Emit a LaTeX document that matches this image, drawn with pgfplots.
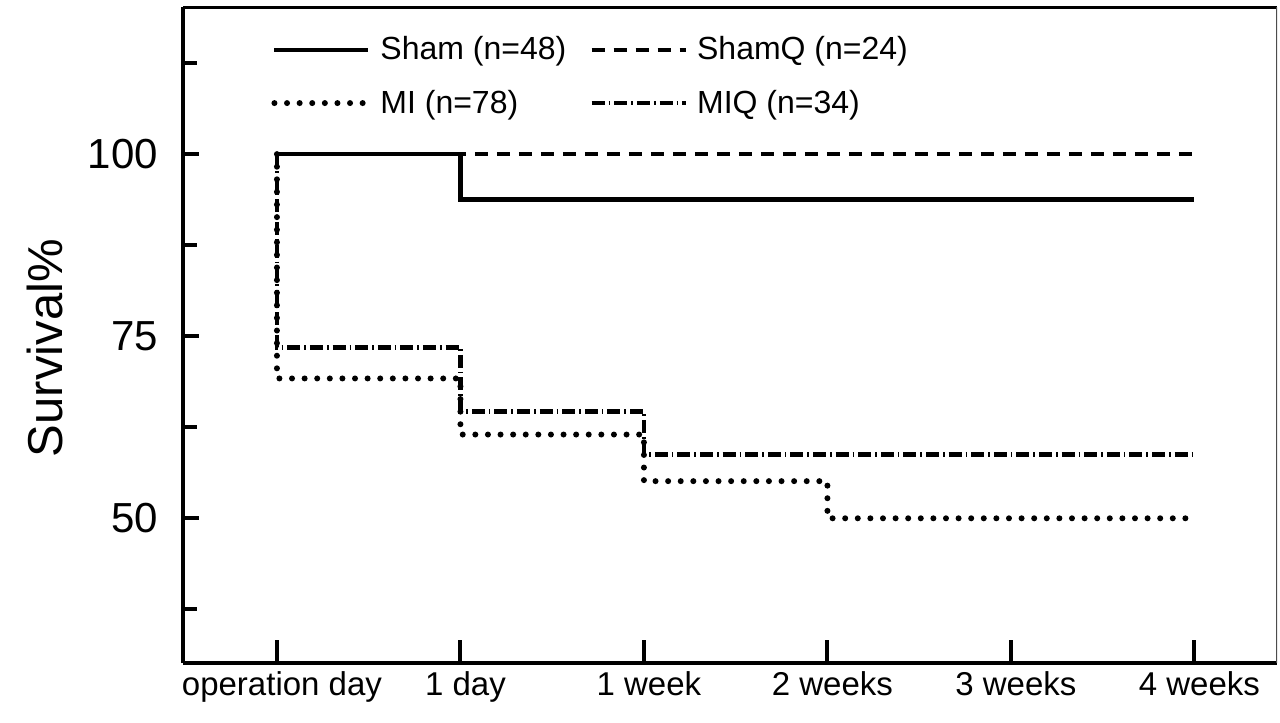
\documentclass[border=0pt]{standalone}
\usepackage{pgfplots}
\pgfplotsset{compat=1.18}
\usepackage{fontspec}
\setmainfont{Liberation Sans}

% Kaplan-Meier style survival steps (x: 0 = operation day, 1 = 1 day, 2..5 = 1..4 weeks)
\pgfplotstableread{
x y
0 100
1 93.75
5 93.75
}\sham
\pgfplotstableread{
x y
0 100
5 100
}\shamq
\pgfplotstableread{
x y
0 100
0 69.2
1 61.5
2 55.1
3 50.0
5 50.0
}\mi
\pgfplotstableread{
x y
0 100
0 73.5
1 64.7
2 58.8
5 58.8
}\miq

\begin{document}
\begin{tikzpicture}
\begin{axis}[
  scale only axis,
  width=547pt, height=328pt,
  xmin=-0.512, xmax=5.45,
  ymin=30.13, ymax=120.2,
  axis lines=left,
  axis line style={-, line width=2pt},
  xtick={0,1,2,3,4,5},
  xticklabels={operation day, 1 day, 1 week, 2 weeks, 3 weeks, 4 weeks},
  ytick={50,75,100},
  minor ytick={37.5,62.5,87.5,112.5},
  tick align=inside,
  major tick length=8pt,
  minor tick length=7pt,
  tick style={line width=2pt, black},
  xtick style={/pgfplots/major tick length=11.5pt},
  /pgf/number format/assume math mode=true,
  yticklabel={\fontsize{21}{21}\selectfont\pgfmathprintnumber{\tick}},
  y tick label style={xshift=-9pt},
  xticklabel style={font=\fontsize{16.5}{16.5}\selectfont, xshift=2.5pt, yshift=-1pt},
  ylabel={Survival\%},
  every axis y label/.style={at={(axis description cs:-0.126,0.48)}, rotate=90, anchor=center,
    font=\fontsize{24.5}{24.5}\selectfont},
  legend columns=2,
  legend cell align=left,
  legend style={draw=none, fill=none, at={(axis description cs:0.075,0.975)}, anchor=north west,
    font=\fontsize{16}{16}\selectfont,
    nodes={inner sep=4.5pt}, row sep=4.5pt,
    /tikz/every even column/.append style={column sep=7pt}},
  legend image code/.code={\draw[#1] (0pt,0pt) -- (47pt,0pt);},
]
\addplot[const plot, black, line width=2.3pt] table {\sham};
\addlegendentry{Sham (n=48)}
\addplot[const plot, black, line width=2.3pt, dash pattern=on 6.5pt off 4.5pt] table {\shamq};
\addlegendentry{ShamQ (n=24)}
\addplot[const plot, black, line width=3pt, line cap=round, dash pattern=on 0pt off 6.3pt] table {\mi};
\addlegendentry{MI (n=78)}
\addplot[const plot, black, line width=2.4pt, dash pattern=on 6.5pt off 2pt on 0.8pt off 2pt] table {\miq};
\addlegendentry{MIQ (n=34)}
% upper and right frame of the box
\draw[line width=2pt] (rel axis cs:0,1) -- (rel axis cs:1,1);
\draw[line width=0.6pt, black!70] (rel axis cs:1,1) -- (rel axis cs:1,0);
\end{axis}
\pgfresetboundingbox
\path ([shift={(-91.5pt,-29.5pt)}]current axis.south west) rectangle ([shift={(1.5pt,3.5pt)}]current axis.north east);
\end{tikzpicture}
\end{document}
